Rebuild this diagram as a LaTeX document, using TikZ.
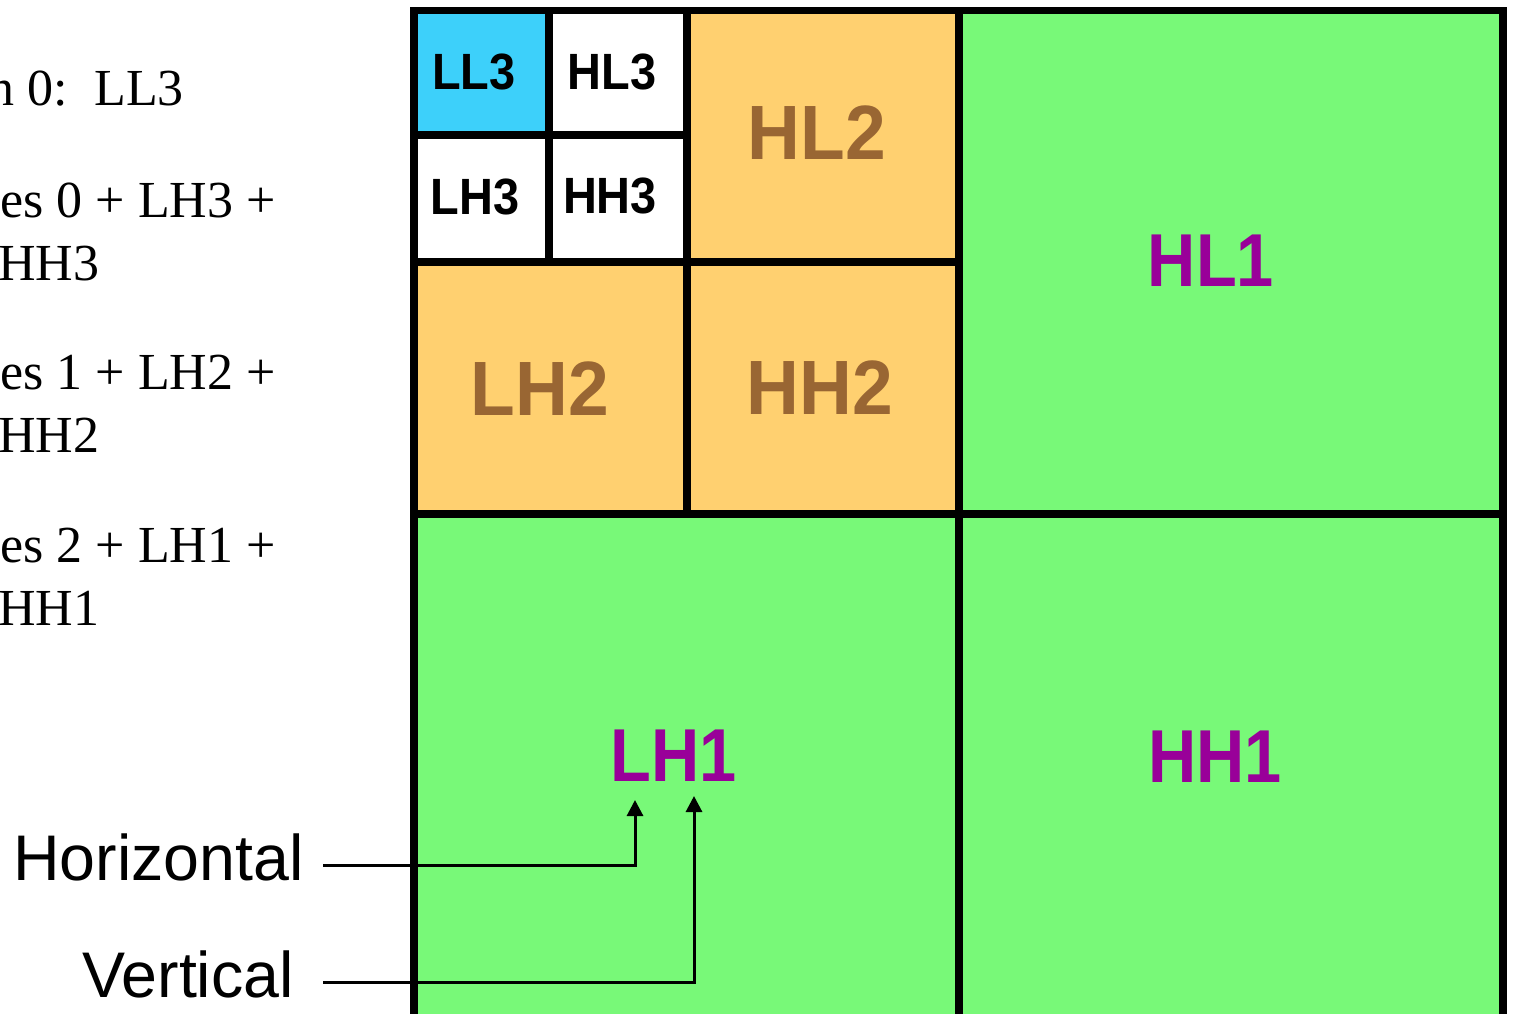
\documentclass[tikz,border=0pt]{standalone}
\usepackage{fontspec}
\setmainfont{Liberation Serif}
\newfontfamily\arialfont{Liberation Sans}
\usetikzlibrary{arrows.meta}
\definecolor{cyanfill}{HTML}{3DD0FA}
\definecolor{orangefill}{HTML}{FFD070}
\definecolor{greenfill}{HTML}{78F978}
\definecolor{brownlbl}{HTML}{996633}
\definecolor{purplelbl}{HTML}{990099}
\newcommand{\narrow}[2]{\scalebox{#1}[1]{#2}}
\begin{document}
\begin{tikzpicture}[x=1pt,y=-1pt,
  cell/.style={draw=black, line width=7.5pt, inner sep=0pt, outer sep=0pt},
  lvlthree/.style={font=\arialfont\bfseries\fontsize{51}{51}\selectfont, text=black, inner sep=0pt},
  lvltwo/.style={font=\arialfont\bfseries\fontsize{77}{77}\selectfont, text=brownlbl, inner sep=0pt},
  lvlone/.style={font=\arialfont\bfseries\fontsize{75}{75}\selectfont, text=purplelbl, inner sep=0pt},
  noteright/.style={font=\fontsize{52}{52}\selectfont, inner sep=0pt, anchor=base east},
  noteleft/.style={font=\fontsize{52}{52}\selectfont, inner sep=0pt, anchor=base west},
  axislbl/.style={font=\arialfont\fontsize{64.5}{64.5}\selectfont, inner sep=0pt, anchor=base west},
  conn/.style={line width=3pt, -{Triangle[width=16pt,length=16pt]}}
]
\useasboundingbox (0,0) rectangle (1513,1014);
\clip (0,0) rectangle (1513,1014);

% level 1 cells
\node[cell, fill=greenfill, minimum width=544pt, minimum height=503.5pt] (hl1c) at (1231,262.25) {};
\node[cell, fill=greenfill, minimum width=545pt, minimum height=506pt] (lh1c) at (686.5,767) {};
\node[cell, fill=greenfill, minimum width=544pt, minimum height=506pt] (hh1c) at (1231,767) {};
% level 2 cells
\node[cell, fill=orangefill, minimum width=272pt, minimum height=251.5pt] (hl2c) at (823,136.25) {};
\node[cell, fill=orangefill, minimum width=273pt, minimum height=252pt] (lh2c) at (550.5,388) {};
\node[cell, fill=orangefill, minimum width=272pt, minimum height=252pt] (hh2c) at (823,388) {};
% level 3 cells
\node[cell, fill=cyanfill, minimum width=135pt, minimum height=124.5pt] (ll3c) at (481.5,72.75) {};
\node[cell, fill=white, minimum width=138pt, minimum height=124.5pt] (hl3c) at (618,72.75) {};
\node[cell, fill=white, minimum width=135pt, minimum height=127pt] (lh3c) at (481.5,198.5) {};
\node[cell, fill=white, minimum width=138pt, minimum height=127pt] (hh3c) at (618,198.5) {};

% labels
\node[lvlthree] (ll3) at (474,72) {\narrow{0.92}{LL3}};
\node[lvlthree] (hl3) at (612,72) {\narrow{0.92}{HL3}};
\node[lvlthree] (lh3) at (475,197) {\narrow{0.92}{LH3}};
\node[lvlthree] (hh3) at (610,196) {\narrow{0.92}{HH3}};
\node[lvltwo] (hl2) at (817,133) {\narrow{0.95}{HL2}};
\node[lvltwo] (lh2) at (540,389) {\narrow{0.95}{LH2}};
\node[lvltwo] (hh2) at (820,388) {\narrow{0.95}{HH2}};
\node[lvlone] (hl1) at (1211,261) {\narrow{0.89}{HL1}};
\node[lvlone] (lh1) at (674,756) {\narrow{0.89}{LH1}};
\node[lvlone] (hh1) at (1215,757) {\narrow{0.89}{HH1}};

% left notes
\node[noteright] (r0) at (184,106) {n 0:\ \ LL3};
\node[noteright] (r1a) at (276,217) {es 0 + LH3 +};
\node[noteleft] (r1b) at (-2,280) {HH3};
\node[noteright] (r2a) at (276,389) {es 1 + LH2 +};
\node[noteleft] (r2b) at (-2,452) {HH2};
\node[noteright] (r3a) at (276,562) {es 2 + LH1 +};
\node[noteleft] (r3b) at (-2,625) {HH1};

% axis labels and connectors
\node[axislbl] (horiz) at (13,880) {Horizontal};
\node[axislbl] (vert) at (82,997) {Vertical};
\coordinate (hstart) at (323,865);
\coordinate (htip) at (635,800);
\coordinate (vstart) at (323,982);
\coordinate (vtip) at (694,796);
\draw[conn] (hstart) -| (htip);
\draw[conn] (vstart) -| (vtip);
\end{tikzpicture}
\end{document}
